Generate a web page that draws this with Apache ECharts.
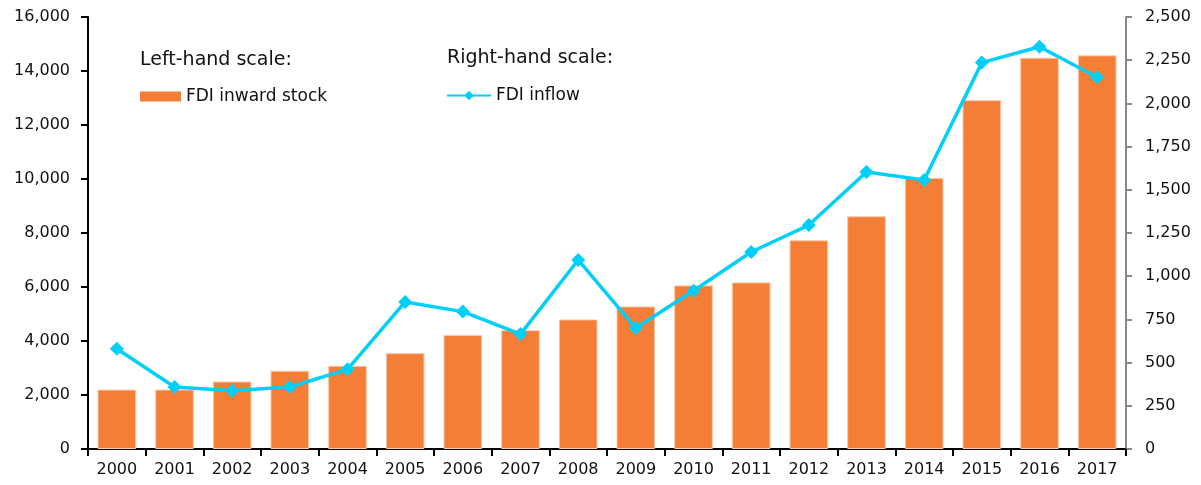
<!DOCTYPE html>
<html>
<head>
<meta charset="utf-8">
<script src="https://cdn.jsdelivr.net/npm/echarts@6/dist/echarts.min.js"></script>
<style>html,body{margin:0;padding:0;background:#fff;}#c{width:1201px;height:485px;}</style>
</head>
<body>
<div id="c"></div>
<script>
const years = ['2000','2001','2002','2003','2004','2005','2006','2007','2008','2009','2010','2011','2012','2013','2014','2015','2016','2017'];
const fdiInwardStock = [2200,2200,2500,2900,3080,3550,4220,4400,4800,5280,6060,6170,7730,8620,10040,12920,14490,14580];
const fdiInflow = [580,359,337,359,461,851,795,665,1094,700,916,1140,1296,1603,1557,2236,2328,2151];
const leftTicks = {min:0, max:16000, interval:2000};
const rightTicks = {min:0, max:2500, interval:250};

const FONT = 'DejaVu Sans';
const fmt = v => Number(v).toLocaleString('en-US');
const chart = echarts.init(document.getElementById('c'), null, {renderer:'canvas'});
chart.setOption({
  animation:false,
  backgroundColor:'#ffffff',
  textStyle:{fontFamily:FONT},
  grid:{left:88, right:75, top:17, bottom:36, containLabel:false},
  title:[
    {text:'Left-hand scale:', left:140, top:51, padding:0, textStyle:{fontFamily:FONT, fontSize:19, fontWeight:'normal', color:'#111'}},
    {text:'Right-hand scale:', left:447, top:49, padding:0, textStyle:{fontFamily:FONT, fontSize:19, fontWeight:'normal', color:'#111'}}
  ],
  legend:[
    {data:[{name:'FDI inward stock', icon:'rect', itemStyle:{borderWidth:0, color:'#F57E37'}}], left:140, top:88, padding:0, itemWidth:41, itemHeight:10,
     textStyle:{fontFamily:FONT, fontSize:17, color:'#111'}},
    {data:['FDI inflow'], left:446, top:87, padding:0, itemWidth:44, itemHeight:12,
     textStyle:{fontFamily:FONT, fontSize:17, color:'#111'}}
  ],
  xAxis:[
    {type:'category', data:years, boundaryGap:true,
     axisLine:{lineStyle:{color:'#000', width:2}},
     axisTick:{show:true, length:7, inside:false, alignWithLabel:false, lineStyle:{color:'#000', width:2}},
     axisLabel:{fontFamily:FONT, fontSize:16, color:'#111', margin:13, interval:0},
     splitLine:{show:false}},
    {type:'category', data:years, position:'top', boundaryGap:true,
     axisLine:{lineStyle:{color:'#000', width:2}},
     axisTick:{show:false}, axisLabel:{show:false}, splitLine:{show:false}}
  ],
  yAxis:[
    {type:'value', min:leftTicks.min, max:leftTicks.max, interval:leftTicks.interval, position:'left',
     axisLine:{show:true, lineStyle:{color:'#000', width:2}},
     axisTick:{show:true, length:7, lineStyle:{color:'#000', width:2}},
     axisLabel:{fontFamily:FONT, fontSize:16, color:'#111', margin:18, formatter:fmt},
     splitLine:{show:false}},
    {type:'value', min:rightTicks.min, max:rightTicks.max, interval:rightTicks.interval, position:'right',
     axisLine:{show:true, lineStyle:{color:'#888', width:2}},
     axisTick:{show:true, length:6, lineStyle:{color:'#888', width:2}},
     axisLabel:{fontFamily:FONT, fontSize:16, color:'#111', margin:19, formatter:fmt},
     splitLine:{show:false}}
  ],
  series:[
    {name:'FDI inward stock', type:'bar', data:fdiInwardStock, xAxisIndex:0, yAxisIndex:0,
     barCategoryGap:'33%',
     itemStyle:{color:'#F57E37', borderColor:'#FBC7A6', borderWidth:1}},
    {name:'FDI inflow', type:'line', data:fdiInflow, xAxisIndex:0, yAxisIndex:1,
     symbol:'diamond', symbolSize:14, showSymbol:true,
     lineStyle:{color:'#00CFFA', width:3.5},
     itemStyle:{color:'#00CFFA'}}
  ]
});
</script>
</body>
</html>
